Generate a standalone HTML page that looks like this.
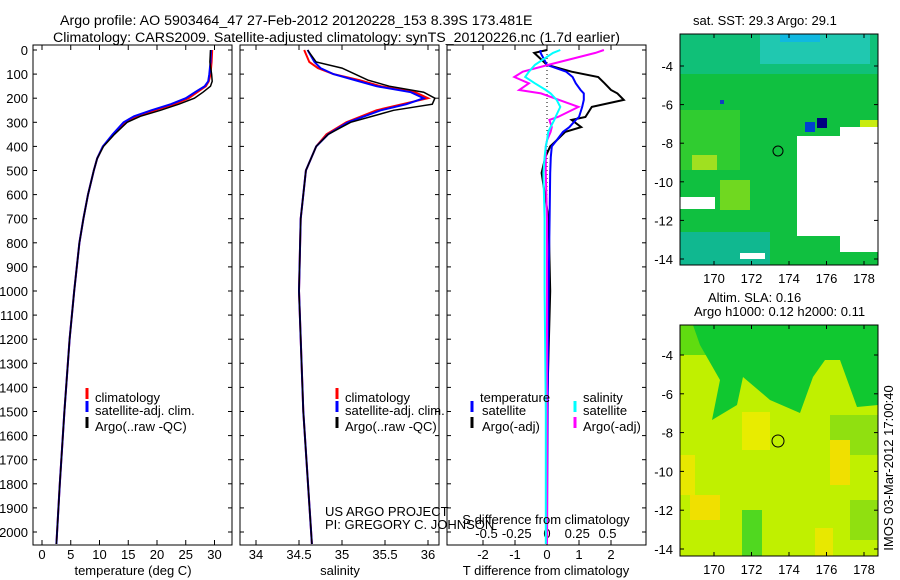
<!DOCTYPE html>
<html><head><meta charset="utf-8"><style>
body{margin:0;background:#fff;}
svg{display:block;font-family:"Liberation Sans",sans-serif;font-size:13px;}
.ttl{font-size:14.2px;}
</style></head><body>
<svg id="fig" width="900" height="580" viewBox="0 0 900 580">
<text class="ttl" x="60" y="25">Argo profile: AO 5903464_47 27-Feb-2012 20120228_153 8.39S 173.481E</text>
<text class="ttl" x="53" y="42">Climatology: CARS2009. Satellite-adjusted climatology: synTS_20120226.nc (1.7d earlier)</text>

<g>
<text x="693" y="25">sat. SST: 29.3 Argo: 29.1</text>
<rect x="680" y="34" width="198" height="231" fill="#10c040"/>
<rect x="680" y="34" width="198" height="40" fill="#10c078"/>
<rect x="760" y="34" width="110" height="30" fill="#20c8b0"/>
<rect x="780" y="34" width="40" height="8" fill="#10b8e0"/>
<rect x="680" y="110" width="60" height="60" fill="#30cc30"/>
<rect x="720" y="180" width="30" height="30" fill="#70d820"/>
<rect x="692" y="155" width="25" height="15" fill="#a0e020"/>
<rect x="860" y="120" width="18" height="16" fill="#c8ec10"/>
<rect x="680" y="232" width="90" height="33" fill="#10b890"/>
<rect x="720" y="100" width="4" height="4" fill="#1040c0"/>
<rect x="805" y="122" width="10" height="10" fill="#0040d0"/>
<rect x="817" y="118" width="10" height="10" fill="#000080"/>
<polygon points="797,136 878,136 878,252 840,252 840,236 797,236" fill="#fff"/>
<rect x="840" y="127" width="38" height="10" fill="#fff"/>
<rect x="680" y="197" width="35" height="12" fill="#fff"/>
<rect x="740" y="253" width="25" height="6" fill="#fff"/>
<circle cx="778" cy="151" r="5" fill="none" stroke="#000"/>
<rect x="680" y="34" width="198" height="231" fill="none" stroke="#000"/>
</g>
<g>
<text x="708" y="302">Altim. SLA: 0.16</text>
<text x="694" y="316">Argo h1000: 0.12 h2000: 0.11</text>
<rect x="680" y="325" width="198" height="231" fill="#c0f000"/>
<rect x="680" y="325" width="198" height="30" fill="#60dc10"/>
<polygon points="693,325 878,325 878,405 857,407 840,360 825,360 813,377 800,413 770,400 743,377 737,405 712,420 720,380 700,345" fill="#10c830"/>
<rect x="830" y="415" width="48" height="40" fill="#90e010"/>
<rect x="680" y="455" width="15" height="40" fill="#e8e800"/>
<rect x="690" y="495" width="30" height="25" fill="#f0e000"/>
<rect x="742" y="412" width="28" height="38" fill="#e8ec00"/>
<rect x="830" y="440" width="20" height="45" fill="#f0e000"/>
<rect x="815" y="528" width="18" height="28" fill="#e8e800"/>
<rect x="742" y="510" width="20" height="46" fill="#50d820"/>
<rect x="850" y="500" width="28" height="40" fill="#90e010"/>
<circle cx="778" cy="441" r="6" fill="none" stroke="#000"/>
<rect x="680" y="325" width="198" height="231" fill="none" stroke="#000"/>
</g>
<text transform="translate(893,468) rotate(-90)" text-anchor="middle">IMOS 03-Mar-2012 17:00:40</text>
<g id="axes"></g>
</svg>
<script>
const tDepth=[0,50,100,130,150,175,200,225,250,275,300,350,400,450,500,600,700,800,1000,1200,1500,1800,2050];
const tClim=[29.6,29.5,29.3,29.0,28.5,27.0,25.5,23.0,19.6,16.5,14.5,12.5,10.6,9.6,9.0,8.0,7.2,6.5,5.6,4.8,3.9,3.1,2.5];
const tSat=[29.4,29.3,29.1,28.9,28.3,26.6,25.0,22.4,19.0,16.0,14.2,12.3,10.6,9.6,9.0,8.0,7.2,6.5,5.6,4.8,3.9,3.1,2.5];
const tArgo=[29.3,29.2,29.5,29.6,29.3,28.0,26.5,23.8,20.6,17.1,14.8,12.6,10.7,9.6,9.0,8.0,7.2,6.5,5.6,4.8,3.9,3.1,2.5];
const sDepth=[0,50,75,100,125,150,175,200,225,250,300,350,400,500,700,1000,1500,2050];
const sClim=[34.56,34.62,34.72,34.9,35.2,35.45,35.85,36.0,35.7,35.4,35.05,34.82,34.7,34.58,34.52,34.5,34.55,34.65];
const sSat=[34.6,34.68,34.75,34.9,35.15,35.4,35.8,35.95,35.75,35.45,35.07,34.84,34.7,34.58,34.52,34.5,34.55,34.65];
const sArgo=[34.6,34.7,35.0,35.15,35.3,35.55,35.95,36.08,36.05,35.6,35.1,34.84,34.7,34.58,34.52,34.5,34.55,34.65];
const dDepth=[0,12,62,90,112,138,166,180,207,236,278,290,320,340,375,400,444,510,700,1000,1500,2050];
const dTArgo=[0.0,-0.4,0.0,0.77,1.6,1.8,2.0,2.2,2.4,1.4,1.2,0.77,1.07,0.57,0.3,0.1,-0.05,-0.17,0.05,0.1,0.0,0.0];
const dTSat=[-0.2,-0.2,0.0,0.6,0.8,0.9,1.05,1.15,1.15,1.1,1.0,0.9,0.7,0.5,0.3,0.15,0.12,0.1,0.08,0.05,0.02,0.0];
const dSArgo=[0.47,0.4,0.01,-0.2,-0.27,-0.15,-0.23,-0.05,0.1,0.26,0.09,0.02,0.04,0.03,0.0,-0.01,-0.01,-0.01,0.0,0.0,0.0,0.0];
const dSSat=[0.11,0.05,-0.1,-0.15,-0.18,-0.1,-0.01,0.03,0.08,0.11,0.07,0.06,0.03,0.01,0.0,-0.01,-0.02,-0.03,-0.02,-0.02,-0.01,-0.01];
const depthTicks=[0,100,200,300,400,500,600,700,800,900,1000,1100,1200,1300,1400,1500,1600,1700,1800,1900,2000];
const tTicks=[0,5,10,15,20,25,30];
const sTicks=[34,34.5,35,35.5,36];
const sTickLabels=["34","34.5","35","35.5","36"];
const dTTicks=[-2,-1,0,1,2];
const dSTicks=[-0.5,-0.25,0,0.25,0.5];
const dSTickLabels=["-0.5","-0.25","0","0.25","0.5"];
const latTicks=[-4,-6,-8,-10,-12,-14];
const lonTicks=[170,172,174,176,178];

const NS="http://www.w3.org/2000/svg";
const g=document.getElementById('axes');
function mk(tag,attrs,parent){const e=document.createElementNS(NS,tag);for(const k in attrs)e.setAttribute(k,attrs[k]);(parent||g).appendChild(e);return e;}
const yD=d=>50+d*0.241;

function panel(x0,w,name){
  const r=mk('rect',{x:x0,y:45,width:w,height:500,fill:'none',stroke:'#000'});
  
  
  depthTicks.forEach(d=>{mk('line',{x1:x0,x2:x0+4,y1:yD(d),y2:yD(d),stroke:'#000'});mk('line',{x1:x0+w-4,x2:x0+w,y1:yD(d),y2:yD(d),stroke:'#000'});});
}
function xticks(x0,w,vals,labels,fx,ly,name){
  vals.forEach((v,i)=>{const x=fx(v);mk('line',{x1:x,x2:x,y1:45,y2:50,stroke:'#000'});mk('line',{x1:x,x2:x,y1:540,y2:545,stroke:'#000'});
    const t=mk('text',{x:x,y:ly,'text-anchor':'middle'});t.textContent=labels[i];
    
    });
}
function line(xs,ds,fx,color,name,sw){
  const pts=xs.map((v,i)=>fx(v).toFixed(1)+','+yD(ds[i]).toFixed(1)).join(' ');
  const p=mk('polyline',{points:pts,fill:'none',stroke:color,'stroke-width':sw||2});
  
  
}
function text(x,y,s,name,anchor){const t=mk('text',{x:x,y:y,'text-anchor':anchor||'start'});t.textContent=s;
  
  return t;}
function legendLine(x,y,color){mk('line',{x1:x,x2:x,y1:y-10,y2:y+1,stroke:color,'stroke-width':3});}

depthTicks.forEach(d=>text(28,yD(d)+5,String(d),'depth-tick-label','end'));

const fT=v=>42+v*5.75;
panel(33,199,'temperature-panel');
xticks(33,199,tTicks,tTicks.map(String),fT,559,'temperature');
line(tClim,tDepth,fT,'#f00','temperature-climatology-line');
line(tSat,tDepth,fT,'#00f','temperature-satellite-line');
line(tArgo,tDepth,fT,'#000','temperature-argo-line',1.5);
text(133,575,'temperature (deg C)','temperature-axis-title','middle');
legendLine(87,398,'#f00');text(95,402,'climatology','legend-climatology');
legendLine(87,411,'#00f');text(95,415,'satellite-adj. clim.','legend-satellite');
legendLine(87,427,'#000');text(95,431,'Argo(..raw -QC)','legend-argo');

const fS=v=>256+(v-34)*86;
panel(240,199,'salinity-panel');
xticks(240,199,sTicks,sTickLabels,fS,559,'salinity');
line(sClim,sDepth,fS,'#f00','salinity-climatology-line');
line(sSat,sDepth,fS,'#00f','salinity-satellite-line');
line(sArgo,sDepth,fS,'#000','salinity-argo-line',1.5);
text(340,575,'salinity','salinity-axis-title','middle');
legendLine(337,398,'#f00');text(345,402,'climatology','legend-climatology-2');
legendLine(337,411,'#00f');text(345,415,'satellite-adj. clim.','legend-satellite-2');
legendLine(337,427,'#000');text(345,431,'Argo(..raw -QC)','legend-argo-2');
text(325,516,'US ARGO PROJECT','project-label');
text(325,529,'PI: GREGORY C. JOHNSON','pi-label');

const fdT=v=>547+v*32;
const fdS=v=>547+v*121;
panel(447,199,'difference-panel');
xticks(447,199,dTTicks,dTTicks.map(String),fdT,559,'t-difference');
dSTicks.forEach((v,i)=>{text(fdS(v),538,dSTickLabels[i],'s-difference-tick-label','middle');});
mk('line',{x1:547,x2:547,y1:50,y2:540,stroke:'#000','stroke-dasharray':'1,3'});
line(dTArgo,dDepth,fdT,'#000','t-diff-argo-line');
line(dTSat,dDepth,fdT,'#00f','t-diff-satellite-line');
line(dSArgo,dDepth,fdS,'#f0f','s-diff-argo-line');
line(dSSat,dDepth,fdS,'#0ff','s-diff-satellite-line');
text(546,524,'S difference from climatology','s-difference-axis-title','middle');
text(546,575,'T difference from climatology','t-difference-axis-title','middle');
text(480,402,'temperature','legend-temperature-header');
text(583,402,'salinity','legend-salinity-header');
legendLine(472,411,'#00f');text(482,415,'satellite','legend-t-satellite');
legendLine(472,427,'#000');text(482,431,'Argo(-adj)','legend-t-argo');
legendLine(575,411,'#0ff');text(583,415,'satellite','legend-s-satellite');
legendLine(575,427,'#f0f');text(583,431,'Argo(-adj)','legend-s-argo');

function mapAxes(y0,h,latY,name){
  latTicks.forEach(v=>{const y=latY(v);mk('line',{x1:680,x2:684,y1:y,y2:y,stroke:'#000'});mk('line',{x1:874,x2:878,y1:y,y2:y,stroke:'#000'});
    text(673,y+5,String(v),name+'-lat-label','end');});
  lonTicks.forEach(v=>{const x=714+(v-170)*18.75;mk('line',{x1:x,x2:x,y1:y0,y2:y0+4,stroke:'#000'});mk('line',{x1:x,x2:x,y1:y0+h-4,y2:y0+h,stroke:'#000'});
    text(x,y0+h+18,String(v),name+'-lon-label','middle');});
}
mapAxes(34,231,v=>66+(-4-v)*19.3,'sst-map');
mapAxes(325,231,v=>355+(-4-v)*19.4,'sla-map');
</script>
</body></html>
